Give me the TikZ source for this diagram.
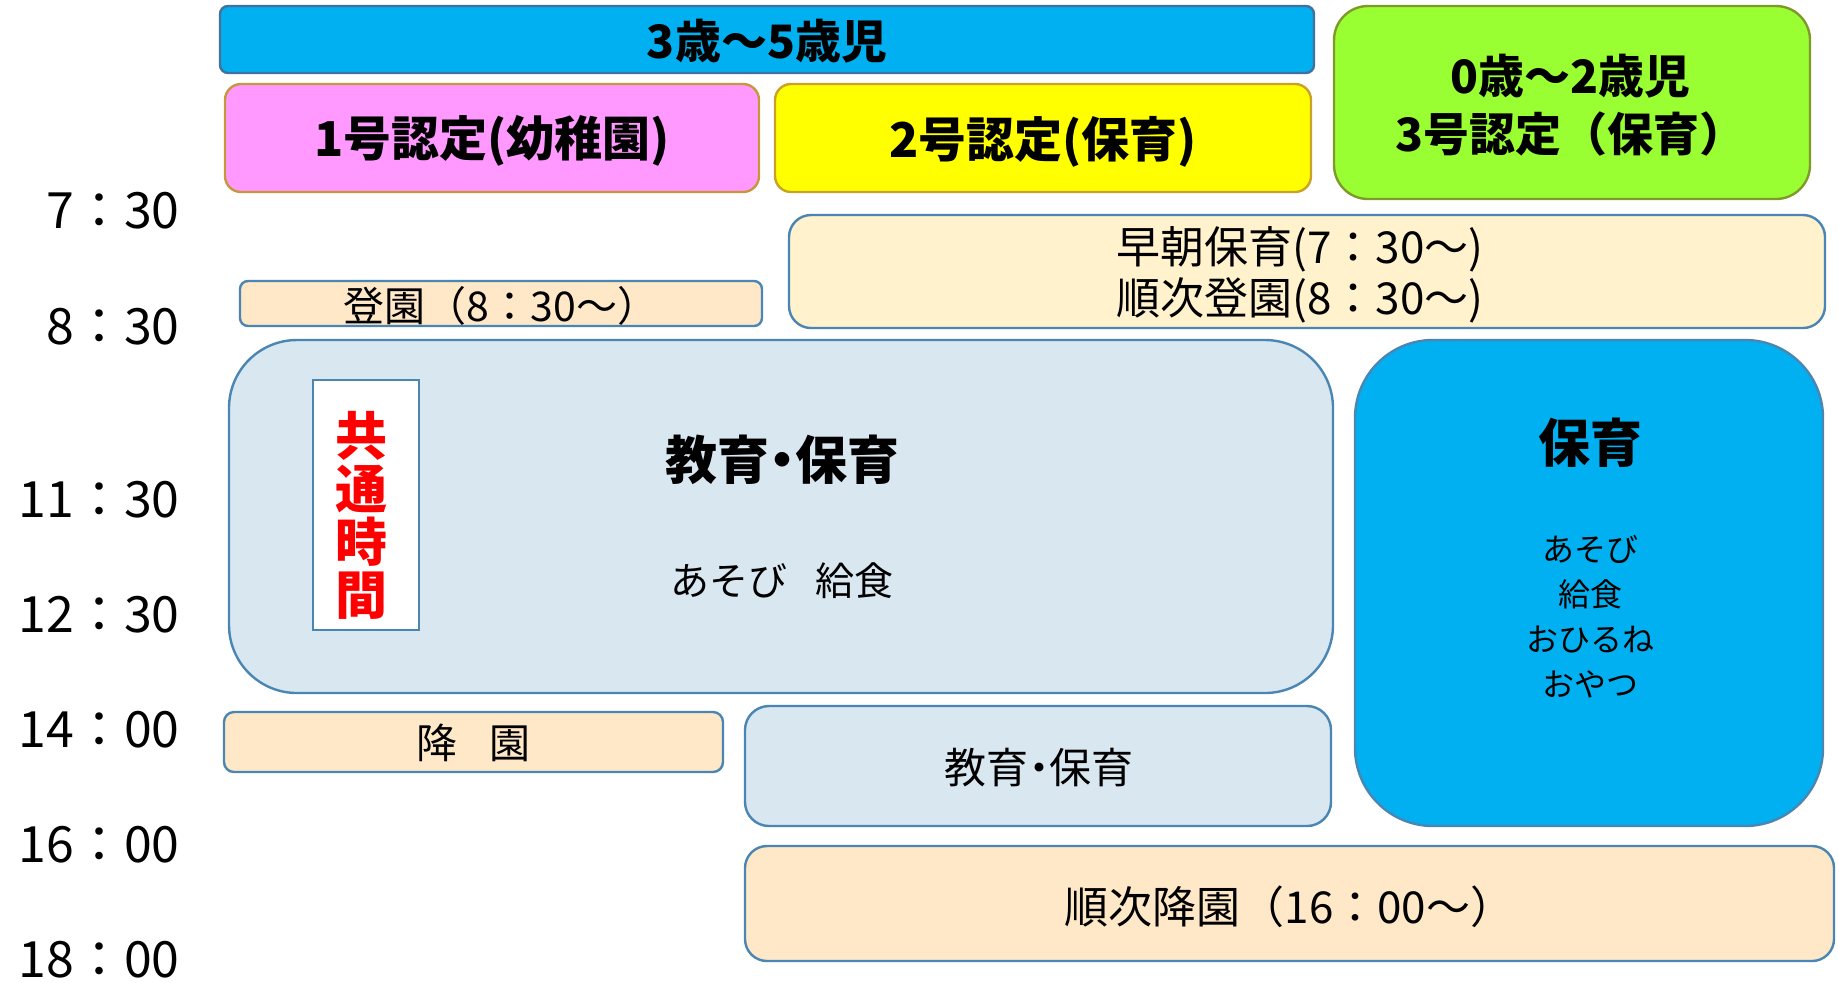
\documentclass[tikz,border=0pt]{standalone}
\usepackage{fontspec}
\setmainfont{Noto Sans CJK JP}
\definecolor{cyanbar}{HTML}{00B0F0}
\definecolor{pinkf}{HTML}{FF99FF}
\definecolor{yellowf}{HTML}{FFFF00}
\definecolor{greenf}{HTML}{99FF33}
\definecolor{cream}{HTML}{FFF2CC}
\definecolor{peach}{HTML}{FFE8C8}
\definecolor{paleblue}{HTML}{D9E7F1}
\definecolor{bluebd}{HTML}{4A86B4}
\definecolor{darkbd}{HTML}{41719C}
\definecolor{goldbd}{HTML}{C8963C}
\definecolor{goldbdb}{HTML}{C9A227}
\definecolor{olivebd}{HTML}{7F9A2A}
\begin{document}
\begin{tikzpicture}[x=0.5pt,y=-0.5pt,
  box/.style={draw, line width=1.2pt, inner sep=0pt, outer sep=0pt},
  lbl/.style={inner sep=0pt, align=center},
  tlbl/.style={inner sep=0pt, anchor=east, font=\fontsize{25pt}{29pt}\selectfont},
  hdrtxt/.style={lbl, font=\bfseries\fontsize{24pt}{29pt}\selectfont},
  plaintxt/.style={lbl, font=\fontsize{22pt}{25.5pt}\selectfont},
  plain/.style={box, draw=bluebd}
]
\useasboundingbox (0,0) rectangle (1839,982);

% headers
\node[box, draw=darkbd, fill=cyanbar, rounded corners=4pt, minimum width=547pt, minimum height=33.5pt] (age35) at (767,39.5) {};
\node[hdrtxt, font=\bfseries\fontsize{23pt}{28pt}\selectfont] (age35T) at (767,41) {3歳～5歳児};
\node[box, draw=goldbd, fill=pinkf, rounded corners=8pt, minimum width=267pt, minimum height=54pt] (nin1) at (492,138) {};
\node[hdrtxt] (nin1T) at (492,141) {1号認定(幼稚園)};
\node[box, draw=goldbdb, fill=yellowf, rounded corners=8pt, minimum width=268pt, minimum height=54pt] (nin2) at (1043,138) {};
\node[hdrtxt] (nin2T) at (1043,142) {2号認定(保育)};
\node[box, draw=olivebd, fill=greenf, rounded corners=17pt, minimum width=238pt, minimum height=96.5pt] (nin3) at (1572,102.5) {};
\node[hdrtxt, font=\bfseries\fontsize{23pt}{29pt}\selectfont] (nin3T) at (1570,105) {0歳～2歳児\\3号認定（保育）};

% time labels
\node[tlbl] (t0730) at (180,211) {7：30};
\node[tlbl] (t0830) at (180,327) {8：30};
\node[tlbl] (t1130) at (180,500) {11：30};
\node[tlbl] (t1230) at (180,615) {12：30};
\node[tlbl] (t1400) at (180,730) {14：00};
\node[tlbl] (t1600) at (180,845) {16：00};
\node[tlbl] (t1800) at (180,960) {18：00};

% morning
\node[plain, fill=cream, rounded corners=11pt, minimum width=518pt, minimum height=56.5pt] (early) at (1307,271.5) {};
\node[plaintxt] (earlyT) at (1300,275) {早朝保育(7：30～)\\順次登園(8：30～)};
\node[plain, fill=peach, rounded corners=4pt, minimum width=261pt, minimum height=22.5pt] (touen) at (501,303.5) {};
\node[plaintxt, font=\fontsize{20.5pt}{24pt}\selectfont] (touenT) at (501,305.5) {登園（8：30～）};

% common time
\node[box, draw=bluebd, fill=paleblue, rounded corners=34pt, minimum width=552pt, minimum height=176.5pt] (common) at (781,516.5) {};
\node[lbl, font=\bfseries\fontsize{26pt}{31pt}\selectfont] (commonT) at (782,460) {教育\kern-.25em・\kern-.25em保育};
\node[lbl, font=\fontsize{19.5pt}{23pt}\selectfont] (commonS) at (782,581) {あそび\hspace{0.7em}給食};
\node[box, draw=bluebd, fill=white, minimum width=53pt, minimum height=125pt] (kyotsu) at (366,505) {};
\node[lbl, text=red, font=\bfseries\fontsize{26pt}{26.5pt}\selectfont] (kyotsuT) at (361,515) {共\\通\\時\\間};

% nursery 0-2
\node[box, draw=bluebd, fill=cyanbar, rounded corners=39pt, minimum width=234pt, minimum height=243pt] (hoiku) at (1589,583) {};
\node[lbl, font=\bfseries\fontsize{26pt}{31pt}\selectfont] (hoikuT) at (1590,443) {保育};
\node[lbl, font=\fontsize{16pt}{22.5pt}\selectfont] (hoikuS) at (1590,616.5) {あそび\\給食\\おひるね\\おやつ};

% afternoon
\node[plain, fill=peach, rounded corners=5pt, minimum width=249.5pt, minimum height=30pt] (kouen) at (473.5,742) {};
\node[plaintxt, font=\fontsize{20.5pt}{24pt}\selectfont] (kouenT) at (473.5,743) {降\hspace{0.8em}園};
\node[plain, fill=paleblue, rounded corners=12pt, minimum width=293pt, minimum height=60pt] (after) at (1038,766) {};
\node[plaintxt, font=\fontsize{21pt}{25pt}\selectfont] (afterT) at (1039,768) {教育\kern-.25em・\kern-.25em保育};
\node[plain, fill=peach, rounded corners=11pt, minimum width=544.5pt, minimum height=57.5pt] (junji) at (1289.5,903.5) {};
\node[plaintxt] (junjiT) at (1289.5,906.5) {順次降園（16：00～）};
\end{tikzpicture}
\end{document}
